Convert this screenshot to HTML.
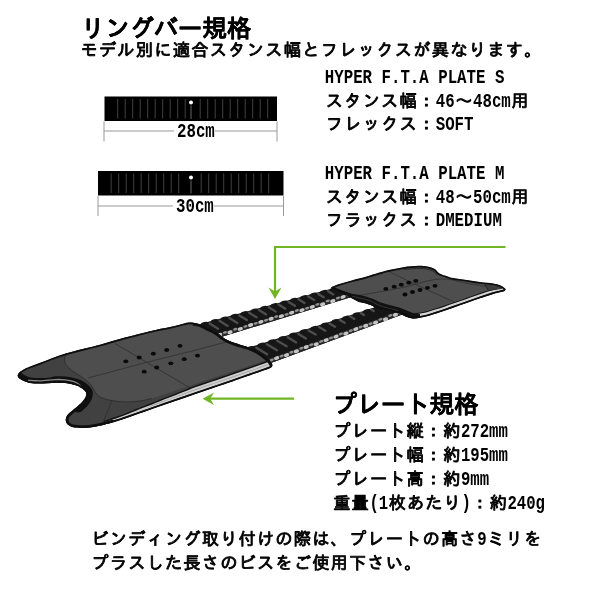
<!DOCTYPE html>
<html lang="ja">
<head>
<meta charset="utf-8">
<title>リングバー規格 / プレート規格</title>
<style>
html,body{margin:0;padding:0;background:#fff;}
body{width:600px;height:600px;overflow:hidden;font-family:"Liberation Mono","IPAGothic",monospace;}
svg{display:block;will-change:transform}
text{font-family:"Liberation Mono","IPAGothic",monospace;font-weight:bold;fill:#000;white-space:pre}
.j{font-weight:normal;stroke:#000;stroke-width:0.85px;stroke-linejoin:round}
.t{font-weight:bold;stroke:#000;stroke-width:0.15px;stroke-linejoin:round}
</style>
</head>
<body>
<svg width="600" height="600" viewBox="0 0 600 600">
<rect width="600" height="600" fill="#fff"/>
<text y="37.00"><tspan class="t" x="80.90" font-size="24.50" textLength="170.30" lengthAdjust="spacing">リングバー規格</tspan></text>
<text y="56.40"><tspan class="j" x="80.39" font-size="17.30" textLength="461.06" lengthAdjust="spacing">モデル別に適合スタンス幅とフレックスが異なります。</tspan></text>
<text y="82.50"><tspan class="l" x="324.80" font-size="20.98" textLength="179.55" lengthAdjust="spacingAndGlyphs">HYPER F.T.A PLATE S</tspan></text>
<text y="107.00"><tspan class="j" x="325.85" font-size="17.30" textLength="109.30" lengthAdjust="spacing">スタンス幅：</tspan><tspan class="l" x="435.70" font-size="20.98" textLength="18.90" lengthAdjust="spacingAndGlyphs">46</tspan><tspan class="j" x="455.15" font-size="17.30">～</tspan><tspan class="l" x="473.00" font-size="20.98" textLength="37.80" lengthAdjust="spacingAndGlyphs">48cm</tspan><tspan class="j" x="511.35" font-size="17.30">用</tspan></text>
<text y="129.90"><tspan class="j" x="325.85" font-size="17.30" textLength="109.30" lengthAdjust="spacing">フレックス：</tspan><tspan class="l" x="435.70" font-size="20.98" textLength="37.80" lengthAdjust="spacingAndGlyphs">SOFT</tspan></text>
<text y="178.50"><tspan class="l" x="324.80" font-size="20.98" textLength="179.55" lengthAdjust="spacingAndGlyphs">HYPER F.T.A PLATE M</tspan></text>
<text y="203.00"><tspan class="j" x="325.85" font-size="17.30" textLength="109.30" lengthAdjust="spacing">スタンス幅：</tspan><tspan class="l" x="435.70" font-size="20.98" textLength="18.90" lengthAdjust="spacingAndGlyphs">48</tspan><tspan class="j" x="455.15" font-size="17.30">～</tspan><tspan class="l" x="473.00" font-size="20.98" textLength="37.80" lengthAdjust="spacingAndGlyphs">50cm</tspan><tspan class="j" x="511.35" font-size="17.30">用</tspan></text>
<text y="225.90"><tspan class="j" x="325.85" font-size="17.30" textLength="109.30" lengthAdjust="spacing">フラックス：</tspan><tspan class="l" x="435.70" font-size="20.98" textLength="66.15" lengthAdjust="spacingAndGlyphs">DMEDIUM</tspan></text>
<text y="136.50"><tspan class="l" x="177.00" font-size="20.98" textLength="37.80" lengthAdjust="spacingAndGlyphs">28cm</tspan></text>
<text y="211.50"><tspan class="l" x="176.00" font-size="20.98" textLength="37.80" lengthAdjust="spacingAndGlyphs">30cm</tspan></text>
<text y="412.60"><tspan class="t" x="332.50" font-size="24.50" textLength="146.00" lengthAdjust="spacing">プレート規格</tspan></text>
<text y="437.20"><tspan class="j" x="333.30" font-size="17.30" textLength="127.10" lengthAdjust="spacing">プレート縦：約</tspan><tspan class="l" x="460.90" font-size="20.98" textLength="47.00" lengthAdjust="spacingAndGlyphs">272mm</tspan></text>
<text y="460.80"><tspan class="j" x="333.30" font-size="17.30" textLength="127.10" lengthAdjust="spacing">プレート幅：約</tspan><tspan class="l" x="460.90" font-size="20.98" textLength="47.00" lengthAdjust="spacingAndGlyphs">195mm</tspan></text>
<text y="484.80"><tspan class="j" x="333.30" font-size="17.30" textLength="127.10" lengthAdjust="spacing">プレート高：約</tspan><tspan class="l" x="460.90" font-size="20.98" textLength="28.20" lengthAdjust="spacingAndGlyphs">9mm</tspan></text>
<text y="509.40"><tspan class="j" x="333.30" font-size="17.30" textLength="35.60" lengthAdjust="spacing">重量</tspan><tspan class="l" x="369.40" font-size="20.98" textLength="18.80" lengthAdjust="spacingAndGlyphs">(1</tspan><tspan class="j" x="388.70" font-size="17.30" textLength="72.20" lengthAdjust="spacing">枚あたり</tspan><tspan class="l" x="461.40" font-size="20.98" textLength="9.40" lengthAdjust="spacingAndGlyphs">)</tspan><tspan class="j" x="471.30" font-size="17.30" textLength="35.60" lengthAdjust="spacing">：約</tspan><tspan class="l" x="507.40" font-size="20.98" textLength="37.60" lengthAdjust="spacingAndGlyphs">240g</tspan></text>
<text y="545.40"><tspan class="j" x="91.35" font-size="17.30" textLength="385.30" lengthAdjust="spacing">ビンディング取り付けの際は、プレートの高さ</tspan><tspan class="l" x="477.20" font-size="20.98" textLength="9.45" lengthAdjust="spacingAndGlyphs">9</tspan><tspan class="j" x="487.20" font-size="17.30" textLength="54.10" lengthAdjust="spacing">ミリを</tspan></text>
<text y="568.90"><tspan class="j" x="91.35" font-size="17.30" textLength="330.10" lengthAdjust="spacing">プラスした長さのビスをご使用下さい。</tspan></text>
<rect x="104.5" y="96.5" width="172.5" height="24.5" fill="#000"/>
<path d="M117.7 99.0V118.5M125.2 99.0V118.5M132.7 99.0V118.5M140.2 99.0V118.5M147.7 99.0V118.5M155.2 99.0V118.5M162.7 99.0V118.5M170.2 99.0V118.5M177.7 99.0V118.5M185.2 99.0V118.5M200.2 99.0V118.5M207.7 99.0V118.5M215.2 99.0V118.5M222.7 99.0V118.5M230.2 99.0V118.5M237.7 99.0V118.5M245.2 99.0V118.5M252.7 99.0V118.5M260.2 99.0V118.5M267.7 99.0V118.5" stroke="#484848" stroke-width="0.9" fill="none"/>
<circle cx="191" cy="102.5" r="2" fill="#fff"/>
<path d="M191 105.5V119" stroke="#666" stroke-width="1" fill="none"/>
<rect x="98" y="171" width="185.5" height="24.5" fill="#000"/>
<path d="M111.2 173.5V193.0M118.7 173.5V193.0M126.2 173.5V193.0M133.7 173.5V193.0M141.2 173.5V193.0M148.7 173.5V193.0M156.2 173.5V193.0M163.7 173.5V193.0M171.2 173.5V193.0M178.7 173.5V193.0M201.2 173.5V193.0M208.7 173.5V193.0M216.2 173.5V193.0M223.7 173.5V193.0M231.2 173.5V193.0M238.7 173.5V193.0M246.2 173.5V193.0M253.7 173.5V193.0M261.2 173.5V193.0M268.7 173.5V193.0" stroke="#484848" stroke-width="0.9" fill="none"/>
<circle cx="191" cy="177.5" r="2" fill="#fff"/>
<path d="M191 180.5V193.5" stroke="#666" stroke-width="1" fill="none"/>
<path d="M104 121.5V141.5M277 121.5V141.5M104 131H174M215 131H277" stroke="#999" stroke-width="1" fill="none"/>
<path d="M98 196V216M283.5 196V216M98 206H173M214 206H283.5" stroke="#999" stroke-width="1" fill="none"/>
<defs><clipPath id="pl"><path d="M17.7 375.6C17.8 374.6 18.3 373.4 19.5 372.2C20.7 371.0 23.2 369.6 25.0 368.7C26.8 367.8 27.5 367.5 30.0 366.5C32.5 365.5 36.7 364.1 40.0 362.8C43.3 361.6 46.7 360.3 50.0 359.0C53.3 357.7 55.8 356.5 60.0 355.2C64.2 353.9 68.3 352.8 75.0 351.0C81.7 349.2 91.7 346.9 100.0 344.7C108.3 342.5 116.7 339.9 125.0 337.6C133.3 335.4 142.5 333.0 150.0 331.2C157.5 329.4 164.4 328.2 170.0 327.0C175.6 325.8 180.2 324.4 183.3 323.7C186.4 323.0 187.0 322.8 188.7 322.6C190.4 322.4 191.8 322.5 193.3 322.7C194.9 322.9 196.4 323.2 198.0 323.7C199.6 324.2 201.3 324.8 203.0 325.5C204.7 326.2 205.7 326.8 208.0 328.0C210.3 329.2 214.4 331.1 216.7 332.5C219.0 333.9 219.8 335.2 222.0 336.7C224.2 338.2 227.0 340.0 230.0 341.3C233.0 342.6 236.7 343.6 240.0 344.7C243.3 345.8 247.0 346.5 250.0 347.6C253.0 348.7 255.5 349.9 258.0 351.3C260.5 352.8 263.0 354.7 265.0 356.3C267.0 357.9 268.8 359.6 270.0 361.0C271.2 362.4 272.1 363.6 272.3 364.7C272.5 365.8 272.2 366.8 271.0 367.7C269.8 368.6 267.7 369.0 265.0 370.0C262.3 371.0 258.3 372.4 255.0 373.6C251.7 374.8 249.2 375.6 245.0 377.0C240.8 378.4 237.5 379.7 230.0 382.3C222.5 384.9 211.7 388.5 200.0 392.5C188.3 396.5 173.3 401.7 160.0 406.3C146.7 410.9 129.2 417.3 120.0 420.3C110.8 423.3 109.2 423.4 105.0 424.5C100.8 425.6 98.3 426.1 95.0 426.7C91.7 427.3 88.3 427.9 85.0 428.0C81.7 428.1 77.5 427.8 75.0 427.5C72.5 427.2 71.4 426.8 70.0 426.0C68.6 425.2 67.2 424.2 66.5 423.0C65.8 421.8 65.6 420.3 65.8 419.0C66.0 417.7 66.5 416.3 67.5 415.0C68.5 413.7 70.2 412.5 72.0 411.0C73.8 409.5 76.2 407.7 78.0 406.0C79.8 404.3 81.7 402.7 83.0 401.0C84.3 399.3 85.5 397.5 86.0 396.0C86.5 394.5 86.6 393.3 85.8 392.0C85.0 390.7 83.2 389.2 81.4 388.0C79.6 386.8 77.7 385.8 75.0 385.0C72.3 384.2 68.3 383.4 65.0 383.0C61.7 382.6 59.2 382.7 55.0 382.8C50.8 382.9 44.2 383.6 40.0 383.6C35.8 383.6 32.8 383.5 30.0 383.0C27.2 382.5 24.8 381.4 23.0 380.6C21.2 379.8 19.9 378.8 19.0 378.0C18.1 377.2 17.6 376.6 17.7 375.6Z"/></clipPath><clipPath id="pr"><path d="M331.3 288.0C331.3 286.8 334.9 285.6 338.3 284.3C341.7 283.0 347.2 281.6 351.7 280.4C356.1 279.2 359.2 278.6 365.0 277.0C370.8 275.4 380.3 272.2 386.7 270.6C393.1 269.0 398.0 268.0 403.3 267.2C408.6 266.4 414.3 265.9 418.3 265.8C422.3 265.7 424.8 266.1 427.5 266.6C430.2 267.1 432.8 267.9 434.8 269.0C436.8 270.1 437.2 272.2 439.4 273.4C441.5 274.6 445.4 275.6 447.7 276.4C450.0 277.2 450.1 277.4 453.3 278.0C456.5 278.6 462.2 279.3 466.7 280.0C471.1 280.7 475.6 281.4 480.0 282.0C484.4 282.6 490.0 282.8 493.3 283.4C496.6 283.9 498.0 284.4 500.0 285.3C502.0 286.2 504.7 287.8 505.4 288.8C506.1 289.8 504.9 290.6 504.0 291.2C503.1 291.8 501.8 291.8 500.0 292.3C498.2 292.8 496.6 293.0 493.3 294.0C490.0 295.0 484.4 296.8 480.0 298.3C475.6 299.8 471.1 301.4 466.7 303.0C462.2 304.6 457.8 306.1 453.3 307.7C448.9 309.2 444.6 310.8 440.0 312.3C435.4 313.8 430.2 315.6 426.0 316.6C421.8 317.6 417.9 318.4 414.7 318.5C411.5 318.6 409.1 317.8 406.7 317.0C404.2 316.2 402.5 314.7 400.0 313.8C397.5 312.9 394.5 312.2 391.7 311.5C388.9 310.8 385.9 310.1 383.3 309.5C380.7 308.9 377.9 308.6 376.0 308.0C374.1 307.4 373.8 306.5 372.0 305.7C370.2 304.9 367.3 304.0 365.0 303.3C362.7 302.6 360.5 302.5 358.3 301.7C356.1 300.9 353.9 299.5 351.7 298.3C349.5 297.1 347.2 295.4 345.0 294.3C342.8 293.2 340.6 292.8 338.3 291.7C336.0 290.6 331.3 289.2 331.3 288.0Z"/></clipPath></defs>
<g><path d="M505.5 247H275V296" stroke="#70b624" stroke-width="2.2" fill="none"/>
<path d="M268.5 287.5L275 291.5L281.5 287.5L275 299Z" fill="#70b624"/>
<path d="M294 398.7H206" stroke="#70b624" stroke-width="2.2" fill="none"/>
<path d="M214 392.5L210.2 398.7L214 404.9L202.6 398.7Z" fill="#70b624"/>
<path d="M199.1 324.2L335.9 287.6L350.8 297.3L217.2 338.2Z" fill="#161616"/>
<path d="M217.2 334.0L350.8 293.1L350.8 297.3L217.2 338.2Z" fill="#262626"/>
<g><ellipse cx="219.7" cy="334.8" rx="2.7" ry="1.8" fill="#c4c4c4" transform="rotate(-17 219.7 334.8)"/><ellipse cx="224.9" cy="332.4" rx="2.2" ry="1.3" fill="#909090" transform="rotate(-17 224.9 332.4)"/><ellipse cx="230.0" cy="332.2" rx="2.7" ry="1.8" fill="#c4c4c4" transform="rotate(-17 230.0 332.2)"/><ellipse cx="235.2" cy="329.2" rx="2.2" ry="1.3" fill="#909090" transform="rotate(-17 235.2 329.2)"/><ellipse cx="240.3" cy="328.9" rx="2.7" ry="1.8" fill="#c4c4c4" transform="rotate(-17 240.3 328.9)"/><ellipse cx="245.4" cy="326.4" rx="2.2" ry="1.3" fill="#909090" transform="rotate(-17 245.4 326.4)"/><ellipse cx="250.6" cy="325.0" rx="2.7" ry="1.8" fill="#c4c4c4" transform="rotate(-17 250.6 325.0)"/><ellipse cx="255.7" cy="323.4" rx="2.2" ry="1.3" fill="#909090" transform="rotate(-17 255.7 323.4)"/><ellipse cx="260.9" cy="321.9" rx="2.7" ry="1.8" fill="#c4c4c4" transform="rotate(-17 260.9 321.9)"/><ellipse cx="266.0" cy="320.2" rx="2.2" ry="1.3" fill="#909090" transform="rotate(-17 266.0 320.2)"/><ellipse cx="271.1" cy="318.8" rx="2.7" ry="1.8" fill="#c4c4c4" transform="rotate(-17 271.1 318.8)"/><ellipse cx="276.3" cy="316.6" rx="2.2" ry="1.3" fill="#909090" transform="rotate(-17 276.3 316.6)"/><ellipse cx="281.4" cy="316.1" rx="2.7" ry="1.8" fill="#c4c4c4" transform="rotate(-17 281.4 316.1)"/><ellipse cx="286.6" cy="314.4" rx="2.2" ry="1.3" fill="#909090" transform="rotate(-17 286.6 314.4)"/><ellipse cx="291.7" cy="312.6" rx="2.7" ry="1.8" fill="#c4c4c4" transform="rotate(-17 291.7 312.6)"/><ellipse cx="296.9" cy="310.5" rx="2.2" ry="1.3" fill="#909090" transform="rotate(-17 296.9 310.5)"/><ellipse cx="302.0" cy="310.1" rx="2.7" ry="1.8" fill="#c4c4c4" transform="rotate(-17 302.0 310.1)"/><ellipse cx="307.1" cy="308.2" rx="2.2" ry="1.3" fill="#909090" transform="rotate(-17 307.1 308.2)"/><ellipse cx="312.3" cy="306.9" rx="2.7" ry="1.8" fill="#c4c4c4" transform="rotate(-17 312.3 306.9)"/><ellipse cx="317.4" cy="304.4" rx="2.2" ry="1.3" fill="#909090" transform="rotate(-17 317.4 304.4)"/><ellipse cx="322.6" cy="304.3" rx="2.7" ry="1.8" fill="#c4c4c4" transform="rotate(-17 322.6 304.3)"/><ellipse cx="327.7" cy="300.9" rx="2.2" ry="1.3" fill="#909090" transform="rotate(-17 327.7 300.9)"/><ellipse cx="332.8" cy="301.0" rx="2.7" ry="1.8" fill="#c4c4c4" transform="rotate(-17 332.8 301.0)"/><ellipse cx="338.0" cy="298.0" rx="2.2" ry="1.3" fill="#909090" transform="rotate(-17 338.0 298.0)"/><ellipse cx="343.1" cy="296.9" rx="2.7" ry="1.8" fill="#c4c4c4" transform="rotate(-17 343.1 296.9)"/><ellipse cx="348.3" cy="294.7" rx="2.2" ry="1.3" fill="#909090" transform="rotate(-17 348.3 294.7)"/></g>
<g fill="#161616"><ellipse cx="204.5" cy="323.7" rx="3.6" ry="1.7" transform="rotate(-15 204.5 323.7)"/><ellipse cx="214.4" cy="321.0" rx="3.6" ry="1.7" transform="rotate(-15 214.4 321.0)"/><ellipse cx="224.3" cy="318.4" rx="3.6" ry="1.7" transform="rotate(-15 224.3 318.4)"/><ellipse cx="234.3" cy="315.7" rx="3.6" ry="1.7" transform="rotate(-15 234.3 315.7)"/><ellipse cx="244.2" cy="313.1" rx="3.6" ry="1.7" transform="rotate(-15 244.2 313.1)"/><ellipse cx="254.1" cy="310.4" rx="3.6" ry="1.7" transform="rotate(-15 254.1 310.4)"/><ellipse cx="264.0" cy="307.7" rx="3.6" ry="1.7" transform="rotate(-15 264.0 307.7)"/><ellipse cx="274.0" cy="305.1" rx="3.6" ry="1.7" transform="rotate(-15 274.0 305.1)"/><ellipse cx="283.9" cy="302.4" rx="3.6" ry="1.7" transform="rotate(-15 283.9 302.4)"/><ellipse cx="293.8" cy="299.7" rx="3.6" ry="1.7" transform="rotate(-15 293.8 299.7)"/><ellipse cx="303.7" cy="297.1" rx="3.6" ry="1.7" transform="rotate(-15 303.7 297.1)"/><ellipse cx="313.7" cy="294.4" rx="3.6" ry="1.7" transform="rotate(-15 313.7 294.4)"/><ellipse cx="323.6" cy="291.8" rx="3.6" ry="1.7" transform="rotate(-15 323.6 291.8)"/><ellipse cx="333.5" cy="289.1" rx="3.6" ry="1.7" transform="rotate(-15 333.5 289.1)"/><ellipse cx="343.4" cy="286.4" rx="3.6" ry="1.7" transform="rotate(-15 343.4 286.4)"/></g>
<path d="M199.8 326.2L208.5 331.6M209.7 323.5L218.1 328.7M219.5 320.8L227.7 325.9M229.4 318.1L237.3 323.0M239.3 315.4L246.9 320.1M249.1 312.7L256.5 317.3M259.0 310.0L266.1 314.4M268.9 307.3L275.7 311.6M278.7 304.6L285.3 308.7M288.6 302.0L294.9 305.8M298.5 299.3L304.5 303.0M308.3 296.6L314.1 300.1M318.2 293.9L323.7 297.3M328.1 291.2L333.3 294.4M338.0 288.5L342.9 291.5" stroke="#4e4e4e" stroke-width="2.3" stroke-linecap="round" fill="none"/>
<path d="M245.2 348.7L379.8 305.8L407.8 312.6L264.2 365.4Z" fill="#161616"/>
<path d="M264.2 360.6L407.8 307.8L407.8 312.6L264.2 365.4Z" fill="#262626"/>
<g><ellipse cx="266.7" cy="361.9" rx="2.7" ry="1.8" fill="#c4c4c4" transform="rotate(-20 266.7 361.9)"/><ellipse cx="271.7" cy="360.0" rx="2.2" ry="1.3" fill="#909090" transform="rotate(-20 271.7 360.0)"/><ellipse cx="276.6" cy="358.1" rx="2.7" ry="1.8" fill="#c4c4c4" transform="rotate(-20 276.6 358.1)"/><ellipse cx="281.6" cy="356.1" rx="2.2" ry="1.3" fill="#909090" transform="rotate(-20 281.6 356.1)"/><ellipse cx="286.5" cy="355.1" rx="2.7" ry="1.8" fill="#c4c4c4" transform="rotate(-20 286.5 355.1)"/><ellipse cx="291.5" cy="352.2" rx="2.2" ry="1.3" fill="#909090" transform="rotate(-20 291.5 352.2)"/><ellipse cx="296.4" cy="351.3" rx="2.7" ry="1.8" fill="#c4c4c4" transform="rotate(-20 296.4 351.3)"/><ellipse cx="301.4" cy="348.2" rx="2.2" ry="1.3" fill="#909090" transform="rotate(-20 301.4 348.2)"/><ellipse cx="306.3" cy="347.0" rx="2.7" ry="1.8" fill="#c4c4c4" transform="rotate(-20 306.3 347.0)"/><ellipse cx="311.3" cy="344.7" rx="2.2" ry="1.3" fill="#909090" transform="rotate(-20 311.3 344.7)"/><ellipse cx="316.2" cy="344.2" rx="2.7" ry="1.8" fill="#c4c4c4" transform="rotate(-20 316.2 344.2)"/><ellipse cx="321.2" cy="341.4" rx="2.2" ry="1.3" fill="#909090" transform="rotate(-20 321.2 341.4)"/><ellipse cx="326.1" cy="340.1" rx="2.7" ry="1.8" fill="#c4c4c4" transform="rotate(-20 326.1 340.1)"/><ellipse cx="331.1" cy="337.9" rx="2.2" ry="1.3" fill="#909090" transform="rotate(-20 331.1 337.9)"/><ellipse cx="336.0" cy="336.6" rx="2.7" ry="1.8" fill="#c4c4c4" transform="rotate(-20 336.0 336.6)"/><ellipse cx="340.9" cy="333.9" rx="2.2" ry="1.3" fill="#909090" transform="rotate(-20 340.9 333.9)"/><ellipse cx="345.9" cy="333.5" rx="2.7" ry="1.8" fill="#c4c4c4" transform="rotate(-20 345.9 333.5)"/><ellipse cx="350.8" cy="330.8" rx="2.2" ry="1.3" fill="#909090" transform="rotate(-20 350.8 330.8)"/><ellipse cx="355.8" cy="329.1" rx="2.7" ry="1.8" fill="#c4c4c4" transform="rotate(-20 355.8 329.1)"/><ellipse cx="360.7" cy="327.0" rx="2.2" ry="1.3" fill="#909090" transform="rotate(-20 360.7 327.0)"/><ellipse cx="365.7" cy="325.8" rx="2.7" ry="1.8" fill="#c4c4c4" transform="rotate(-20 365.7 325.8)"/><ellipse cx="370.6" cy="323.7" rx="2.2" ry="1.3" fill="#909090" transform="rotate(-20 370.6 323.7)"/><ellipse cx="375.6" cy="322.5" rx="2.7" ry="1.8" fill="#c4c4c4" transform="rotate(-20 375.6 322.5)"/><ellipse cx="380.5" cy="319.4" rx="2.2" ry="1.3" fill="#909090" transform="rotate(-20 380.5 319.4)"/><ellipse cx="385.5" cy="319.2" rx="2.7" ry="1.8" fill="#c4c4c4" transform="rotate(-20 385.5 319.2)"/><ellipse cx="390.4" cy="315.5" rx="2.2" ry="1.3" fill="#909090" transform="rotate(-20 390.4 315.5)"/><ellipse cx="395.4" cy="314.8" rx="2.7" ry="1.8" fill="#c4c4c4" transform="rotate(-20 395.4 314.8)"/><ellipse cx="400.3" cy="312.7" rx="2.2" ry="1.3" fill="#909090" transform="rotate(-20 400.3 312.7)"/><ellipse cx="405.3" cy="310.7" rx="2.7" ry="1.8" fill="#c4c4c4" transform="rotate(-20 405.3 310.7)"/></g>
<g fill="#161616"><ellipse cx="250.5" cy="348.0" rx="3.6" ry="1.7" transform="rotate(-15 250.5 348.0)"/><ellipse cx="261.1" cy="344.6" rx="3.6" ry="1.7" transform="rotate(-15 261.1 344.6)"/><ellipse cx="271.7" cy="341.2" rx="3.6" ry="1.7" transform="rotate(-15 271.7 341.2)"/><ellipse cx="282.2" cy="337.9" rx="3.6" ry="1.7" transform="rotate(-15 282.2 337.9)"/><ellipse cx="292.8" cy="334.5" rx="3.6" ry="1.7" transform="rotate(-15 292.8 334.5)"/><ellipse cx="303.4" cy="331.1" rx="3.6" ry="1.7" transform="rotate(-15 303.4 331.1)"/><ellipse cx="314.0" cy="327.8" rx="3.6" ry="1.7" transform="rotate(-15 314.0 327.8)"/><ellipse cx="324.6" cy="324.4" rx="3.6" ry="1.7" transform="rotate(-15 324.6 324.4)"/><ellipse cx="335.2" cy="321.0" rx="3.6" ry="1.7" transform="rotate(-15 335.2 321.0)"/><ellipse cx="345.8" cy="317.6" rx="3.6" ry="1.7" transform="rotate(-15 345.8 317.6)"/><ellipse cx="356.3" cy="314.2" rx="3.6" ry="1.7" transform="rotate(-15 356.3 314.2)"/><ellipse cx="366.9" cy="310.9" rx="3.6" ry="1.7" transform="rotate(-15 366.9 310.9)"/><ellipse cx="377.5" cy="307.5" rx="3.6" ry="1.7" transform="rotate(-15 377.5 307.5)"/><ellipse cx="388.1" cy="304.1" rx="3.6" ry="1.7" transform="rotate(-15 388.1 304.1)"/></g>
<path d="M246.0 351.2L257.5 358.1M256.4 347.7L267.2 354.2M266.9 344.2L276.9 350.2M277.3 340.8L286.6 346.3M287.7 337.3L296.2 342.4M298.2 333.8L305.9 338.5M308.6 330.4L315.6 334.6M319.0 326.9L325.3 330.7M329.5 323.4L335.0 326.7M339.9 320.0L344.6 322.8M350.3 316.5L354.3 318.9M360.8 313.0L364.0 315.0M371.2 309.6L373.7 311.1M381.6 306.1L383.4 307.1" stroke="#4e4e4e" stroke-width="2.3" stroke-linecap="round" fill="none"/>
<g clip-path="url(#pl)">
<path d="M17.7 375.6C17.8 374.6 18.3 373.4 19.5 372.2C20.7 371.0 23.2 369.6 25.0 368.7C26.8 367.8 27.5 367.5 30.0 366.5C32.5 365.5 36.7 364.1 40.0 362.8C43.3 361.6 46.7 360.3 50.0 359.0C53.3 357.7 55.8 356.5 60.0 355.2C64.2 353.9 68.3 352.8 75.0 351.0C81.7 349.2 91.7 346.9 100.0 344.7C108.3 342.5 116.7 339.9 125.0 337.6C133.3 335.4 142.5 333.0 150.0 331.2C157.5 329.4 164.4 328.2 170.0 327.0C175.6 325.8 180.2 324.4 183.3 323.7C186.4 323.0 187.0 322.8 188.7 322.6C190.4 322.4 191.8 322.5 193.3 322.7C194.9 322.9 196.4 323.2 198.0 323.7C199.6 324.2 201.3 324.8 203.0 325.5C204.7 326.2 205.7 326.8 208.0 328.0C210.3 329.2 214.4 331.1 216.7 332.5C219.0 333.9 219.8 335.2 222.0 336.7C224.2 338.2 227.0 340.0 230.0 341.3C233.0 342.6 236.7 343.6 240.0 344.7C243.3 345.8 247.0 346.5 250.0 347.6C253.0 348.7 255.5 349.9 258.0 351.3C260.5 352.8 263.0 354.7 265.0 356.3C267.0 357.9 268.8 359.6 270.0 361.0C271.2 362.4 272.1 363.6 272.3 364.7C272.5 365.8 272.2 366.8 271.0 367.7C269.8 368.6 267.7 369.0 265.0 370.0C262.3 371.0 258.3 372.4 255.0 373.6C251.7 374.8 249.2 375.6 245.0 377.0C240.8 378.4 237.5 379.7 230.0 382.3C222.5 384.9 211.7 388.5 200.0 392.5C188.3 396.5 173.3 401.7 160.0 406.3C146.7 410.9 129.2 417.3 120.0 420.3C110.8 423.3 109.2 423.4 105.0 424.5C100.8 425.6 98.3 426.1 95.0 426.7C91.7 427.3 88.3 427.9 85.0 428.0C81.7 428.1 77.5 427.8 75.0 427.5C72.5 427.2 71.4 426.8 70.0 426.0C68.6 425.2 67.2 424.2 66.5 423.0C65.8 421.8 65.6 420.3 65.8 419.0C66.0 417.7 66.5 416.3 67.5 415.0C68.5 413.7 70.2 412.5 72.0 411.0C73.8 409.5 76.2 407.7 78.0 406.0C79.8 404.3 81.7 402.7 83.0 401.0C84.3 399.3 85.5 397.5 86.0 396.0C86.5 394.5 86.6 393.3 85.8 392.0C85.0 390.7 83.2 389.2 81.4 388.0C79.6 386.8 77.7 385.8 75.0 385.0C72.3 384.2 68.3 383.4 65.0 383.0C61.7 382.6 59.2 382.7 55.0 382.8C50.8 382.9 44.2 383.6 40.0 383.6C35.8 383.6 32.8 383.5 30.0 383.0C27.2 382.5 24.8 381.4 23.0 380.6C21.2 379.8 19.9 378.8 19.0 378.0C18.1 377.2 17.6 376.6 17.7 375.6Z" fill="#414141"/>
<path d="M66.0 352.0C65.8 353.3 64.3 357.7 64.5 360.0C64.7 362.3 65.4 364.0 67.0 366.0C68.6 368.0 71.2 369.9 74.0 372.0C76.8 374.1 81.2 376.3 84.0 378.5C86.8 380.7 89.2 382.8 91.0 385.0C92.8 387.2 93.3 389.9 95.0 392.0C96.7 394.1 98.2 396.1 101.0 397.5C103.8 398.9 107.8 399.9 112.0 400.6C116.2 401.4 121.3 401.9 126.0 402.0C130.7 402.1 135.7 401.6 140.0 401.0C144.3 400.4 150.0 398.9 152.0 398.5L290 352L290 300L66 330Z" fill="#4e4e4e"/>
<path d="M66.0 352.0C65.8 353.3 64.3 357.7 64.5 360.0C64.7 362.3 65.4 364.0 67.0 366.0C68.6 368.0 71.2 369.9 74.0 372.0C76.8 374.1 81.2 376.3 84.0 378.5C86.8 380.7 89.2 382.8 91.0 385.0C92.8 387.2 93.3 389.9 95.0 392.0C96.7 394.1 98.2 396.1 101.0 397.5C103.8 398.9 107.8 399.9 112.0 400.6C116.2 401.4 121.3 401.9 126.0 402.0C130.7 402.1 135.7 401.6 140.0 401.0C144.3 400.4 150.0 398.9 152.0 398.5" stroke="#303030" stroke-width="1" fill="none"/>
<path d="M112 400.6L107 413L101 426" stroke="#303030" stroke-width="0.9" fill="none"/>
<path d="M115 343.5L146.7 362.3L180 382L196 391.5M88 378L146.7 362.3L190 351.5L232 340.5" stroke="#333" stroke-width="0.9" fill="none"/>
<ellipse cx="125.8" cy="361.3" rx="2.5" ry="1.9" fill="#0a0a0a"/>
<ellipse cx="139.2" cy="357.5" rx="2.5" ry="1.9" fill="#0a0a0a"/>
<ellipse cx="153.3" cy="353.7" rx="2.5" ry="1.9" fill="#0a0a0a"/>
<ellipse cx="166.7" cy="350" rx="2.5" ry="1.9" fill="#0a0a0a"/>
<ellipse cx="180" cy="345.8" rx="2.5" ry="1.9" fill="#0a0a0a"/>
<ellipse cx="144.2" cy="371.7" rx="2.5" ry="1.9" fill="#0a0a0a"/>
<ellipse cx="156.7" cy="367.5" rx="2.5" ry="1.9" fill="#0a0a0a"/>
<ellipse cx="170.8" cy="363.3" rx="2.5" ry="1.9" fill="#0a0a0a"/>
<ellipse cx="184.2" cy="359.2" rx="2.5" ry="1.9" fill="#0a0a0a"/>
<ellipse cx="197.5" cy="355.6" rx="2.5" ry="1.9" fill="#0a0a0a"/>
<path d="M104.0 424.8L108.0 423.7L112.0 422.6L116.0 421.4L120.0 420.3L124.0 418.9L128.0 417.5L132.0 416.1L136.0 414.7L140.0 413.3L144.0 411.9L148.0 410.5L152.0 409.1L156.0 407.7L160.0 406.3L164.0 404.9L168.0 403.5L172.0 402.2L176.0 400.8L180.0 399.4L184.0 398.0L188.0 396.6L192.0 395.3L196.0 393.9L200.0 392.5L204.3 391.0L208.6 389.6L212.9 388.1L217.1 386.7L221.4 385.2L225.7 383.8L230.0 382.3L235.0 380.5L240.0 378.8L245.0 377.0L250.0 375.3L255.0 373.6L260.0 371.8L265.0 370.0L271.0 367.7L274.0 366.0L274.0 357.6L271.0 359.3L265.0 361.6L260.0 363.4L255.0 365.2L250.0 366.9L245.0 368.6L240.0 370.4L235.0 372.1L230.0 373.9L225.7 375.4L221.4 376.8L217.1 378.3L212.9 379.7L208.6 381.2L204.3 382.6L200.0 384.1L196.0 385.5L192.0 387.0L188.0 388.6L184.0 390.2L180.0 391.7L176.0 393.3L172.0 394.9L168.0 396.4L164.0 398.0L160.0 399.6L156.0 401.2L152.0 402.8L148.0 404.3L144.0 405.9L140.0 407.5L136.0 409.1L132.0 410.7L128.0 412.3L124.0 413.9L120.0 415.5L116.0 416.8L112.0 418.1L108.0 419.4L104.0 420.7Z" fill="#141414"/>
<path d="M104.0 423.0L108.0 421.9L112.0 420.8L116.0 419.6L120.0 418.5L124.0 417.1L128.0 415.7L132.0 414.3L136.0 412.9L140.0 411.5L144.0 410.1L148.0 408.7L152.0 407.3L156.0 405.9L160.0 404.5L164.0 403.1L168.0 401.7L172.0 400.4L176.0 399.0L180.0 397.6L184.0 396.2L188.0 394.8L192.0 393.5L196.0 392.1L200.0 390.7L204.3 389.2L208.6 387.8L212.9 386.3L217.1 384.9L221.4 383.4L225.7 382.0L230.0 380.5L235.0 378.7L240.0 377.0L245.0 375.2L250.0 373.5L255.0 371.8L260.0 370.0L265.0 368.2L271.0 365.9L274.0 364.2L274.0 359.2L271.0 360.9L265.0 363.2L260.0 365.0L255.0 366.8L250.0 368.5L245.0 370.2L240.0 372.0L235.0 373.7L230.0 375.5L225.7 377.0L221.4 378.4L217.1 379.9L212.9 381.3L208.6 382.8L204.3 384.2L200.0 385.7L196.0 387.1L192.0 388.6L188.0 390.2L184.0 391.8L180.0 393.3L176.0 394.9L172.0 396.5L168.0 398.0L164.0 399.6L160.0 401.2L156.0 402.8L152.0 404.4L148.0 405.9L144.0 407.5L140.0 409.1L136.0 410.7L132.0 412.3L128.0 413.9L124.0 415.5L120.0 417.1L116.0 418.4L112.0 419.7L108.0 421.0L104.0 422.3Z" fill="#cdcdcd"/>
<path d="M104.0 422.7L108.0 421.5L112.0 420.3L116.0 419.1L120.0 417.9L124.0 416.4L128.0 414.9L132.0 413.4L136.0 411.9L140.0 410.4L144.0 408.9L148.0 407.5L152.0 406.0L156.0 404.5L160.0 403.0L164.0 401.5L168.0 400.1L172.0 398.6L176.0 397.1L180.0 395.7L184.0 394.2L188.0 392.8L192.0 391.3L196.0 389.8L200.0 388.4L204.3 387.0L208.6 385.5L212.9 384.1L217.1 382.6L221.4 381.2L225.7 379.7L230.0 378.2L235.0 376.5L240.0 374.7L245.0 372.9L250.0 371.2L255.0 369.6L260.0 367.8L265.0 365.9L271.0 363.6L274.0 361.9L274.0 361.2L271.0 362.9L265.0 365.2L260.0 367.1L255.0 368.9L250.0 370.6L245.0 372.2L240.0 374.0L235.0 375.8L230.0 377.6L225.7 379.0L221.4 380.5L217.1 381.9L212.9 383.4L208.6 384.8L204.3 386.3L200.0 387.8L196.0 389.1L192.0 390.6L188.0 392.1L184.0 393.5L180.0 395.0L176.0 396.4L172.0 397.9L168.0 399.4L164.0 400.8L160.0 402.3L156.0 403.8L152.0 405.3L148.0 407.5L144.0 408.9L140.0 410.4L136.0 411.9L132.0 413.4L128.0 414.9L124.0 416.4L120.0 417.9L116.0 419.1L112.0 420.3L108.0 421.5L104.0 422.7Z" fill="#9a9a9a"/>
<path d="M19.0 378.0C19.7 378.4 21.2 379.8 23.0 380.6C24.8 381.4 27.2 382.5 30.0 383.0C32.8 383.5 35.8 383.6 40.0 383.6C44.2 383.6 50.8 382.9 55.0 382.8C59.2 382.7 63.3 383.0 65.0 383.0" stroke="#101010" stroke-width="11" stroke-linecap="round" fill="none"/>
<path d="M55.0 382.8C56.7 382.8 61.7 382.6 65.0 383.0C68.3 383.4 72.3 384.2 75.0 385.0C77.7 385.8 79.6 386.8 81.4 388.0C83.2 389.2 85.0 390.7 85.8 392.0C86.6 393.3 86.5 394.5 86.0 396.0C85.5 397.5 84.3 399.3 83.0 401.0C81.7 402.7 78.8 405.2 78.0 406.0" stroke="#101010" stroke-width="13" stroke-linecap="round" fill="none"/>
<path d="M28.0 380.4C30.0 380.5 35.5 381.0 40.0 380.9C44.5 380.8 50.8 379.8 55.0 379.6C59.2 379.4 61.8 379.5 65.0 379.8C68.2 380.1 71.6 380.7 74.0 381.6C76.4 382.5 78.2 383.7 79.6 385.0C81.0 386.3 81.9 388.0 82.4 389.5C82.9 391.0 82.4 393.2 82.4 394.0" stroke="#8a8a8a" stroke-width="1.3" fill="none"/>
<path d="M193.3 322.7C194.1 322.9 196.4 323.2 198.0 323.7C199.6 324.2 201.3 324.8 203.0 325.5C204.7 326.2 205.7 326.8 208.0 328.0C210.3 329.2 214.4 331.1 216.7 332.5C219.0 333.9 219.8 335.2 222.0 336.7C224.2 338.2 227.0 340.0 230.0 341.3C233.0 342.6 236.7 343.6 240.0 344.7C243.3 345.8 247.0 346.5 250.0 347.6C253.0 348.7 255.5 349.9 258.0 351.3C260.5 352.8 263.0 354.7 265.0 356.3C267.0 357.9 268.8 359.6 270.0 361.0C271.2 362.4 271.9 364.1 272.3 364.7" stroke="#101010" stroke-width="5.6" fill="none"/>
<path d="M78.0 406.0C77.0 406.8 73.8 409.5 72.0 411.0C70.2 412.5 68.5 413.7 67.5 415.0C66.5 416.3 66.0 417.7 65.8 419.0C65.6 420.3 65.8 421.8 66.5 423.0C67.2 424.2 68.6 425.2 70.0 426.0C71.4 426.8 72.5 427.2 75.0 427.5C77.5 427.8 81.7 428.1 85.0 428.0C88.3 427.9 91.7 427.3 95.0 426.7C98.3 426.1 102.2 425.2 105.0 424.5C107.8 423.8 110.8 422.9 112.0 422.6" stroke="#101010" stroke-width="5.4" stroke-linecap="round" fill="none"/>
<path d="M17.7 375.6C17.8 374.6 18.3 373.4 19.5 372.2C20.7 371.0 23.2 369.6 25.0 368.7C26.8 367.8 27.5 367.5 30.0 366.5C32.5 365.5 36.7 364.1 40.0 362.8C43.3 361.6 46.7 360.3 50.0 359.0C53.3 357.7 55.8 356.5 60.0 355.2C64.2 353.9 68.3 352.8 75.0 351.0C81.7 349.2 91.7 346.9 100.0 344.7C108.3 342.5 116.7 339.9 125.0 337.6C133.3 335.4 142.5 333.0 150.0 331.2C157.5 329.4 164.4 328.2 170.0 327.0C175.6 325.8 180.2 324.4 183.3 323.7C186.4 323.0 187.0 322.8 188.7 322.6C190.4 322.4 191.8 322.5 193.3 322.7C194.9 322.9 196.4 323.2 198.0 323.7C199.6 324.2 201.3 324.8 203.0 325.5C204.7 326.2 205.7 326.8 208.0 328.0C210.3 329.2 214.4 331.1 216.7 332.5C219.0 333.9 219.8 335.2 222.0 336.7C224.2 338.2 227.0 340.0 230.0 341.3C233.0 342.6 236.7 343.6 240.0 344.7C243.3 345.8 247.0 346.5 250.0 347.6C253.0 348.7 255.5 349.9 258.0 351.3C260.5 352.8 263.0 354.7 265.0 356.3C267.0 357.9 268.8 359.6 270.0 361.0C271.2 362.4 272.1 363.6 272.3 364.7C272.5 365.8 272.2 366.8 271.0 367.7C269.8 368.6 267.7 369.0 265.0 370.0C262.3 371.0 258.3 372.4 255.0 373.6C251.7 374.8 249.2 375.6 245.0 377.0C240.8 378.4 237.5 379.7 230.0 382.3C222.5 384.9 211.7 388.5 200.0 392.5C188.3 396.5 173.3 401.7 160.0 406.3C146.7 410.9 129.2 417.3 120.0 420.3C110.8 423.3 109.2 423.4 105.0 424.5C100.8 425.6 98.3 426.1 95.0 426.7C91.7 427.3 88.3 427.9 85.0 428.0C81.7 428.1 77.5 427.8 75.0 427.5C72.5 427.2 71.4 426.8 70.0 426.0C68.6 425.2 67.2 424.2 66.5 423.0C65.8 421.8 65.6 420.3 65.8 419.0C66.0 417.7 66.5 416.3 67.5 415.0C68.5 413.7 70.2 412.5 72.0 411.0C73.8 409.5 76.2 407.7 78.0 406.0C79.8 404.3 81.7 402.7 83.0 401.0C84.3 399.3 85.5 397.5 86.0 396.0C86.5 394.5 86.6 393.3 85.8 392.0C85.0 390.7 83.2 389.2 81.4 388.0C79.6 386.8 77.7 385.8 75.0 385.0C72.3 384.2 68.3 383.4 65.0 383.0C61.7 382.6 59.2 382.7 55.0 382.8C50.8 382.9 44.2 383.6 40.0 383.6C35.8 383.6 32.8 383.5 30.0 383.0C27.2 382.5 24.8 381.4 23.0 380.6C21.2 379.8 19.9 378.8 19.0 378.0C18.1 377.2 17.6 376.6 17.7 375.6Z" stroke="#0e0e0e" stroke-width="3.4" stroke-linejoin="round" fill="none"/>
</g>
<g clip-path="url(#pr)">
<path d="M331.3 288.0C331.3 286.8 334.9 285.6 338.3 284.3C341.7 283.0 347.2 281.6 351.7 280.4C356.1 279.2 359.2 278.6 365.0 277.0C370.8 275.4 380.3 272.2 386.7 270.6C393.1 269.0 398.0 268.0 403.3 267.2C408.6 266.4 414.3 265.9 418.3 265.8C422.3 265.7 424.8 266.1 427.5 266.6C430.2 267.1 432.8 267.9 434.8 269.0C436.8 270.1 437.2 272.2 439.4 273.4C441.5 274.6 445.4 275.6 447.7 276.4C450.0 277.2 450.1 277.4 453.3 278.0C456.5 278.6 462.2 279.3 466.7 280.0C471.1 280.7 475.6 281.4 480.0 282.0C484.4 282.6 490.0 282.8 493.3 283.4C496.6 283.9 498.0 284.4 500.0 285.3C502.0 286.2 504.7 287.8 505.4 288.8C506.1 289.8 504.9 290.6 504.0 291.2C503.1 291.8 501.8 291.8 500.0 292.3C498.2 292.8 496.6 293.0 493.3 294.0C490.0 295.0 484.4 296.8 480.0 298.3C475.6 299.8 471.1 301.4 466.7 303.0C462.2 304.6 457.8 306.1 453.3 307.7C448.9 309.2 444.6 310.8 440.0 312.3C435.4 313.8 430.2 315.6 426.0 316.6C421.8 317.6 417.9 318.4 414.7 318.5C411.5 318.6 409.1 317.8 406.7 317.0C404.2 316.2 402.5 314.7 400.0 313.8C397.5 312.9 394.5 312.2 391.7 311.5C388.9 310.8 385.9 310.1 383.3 309.5C380.7 308.9 377.9 308.6 376.0 308.0C374.1 307.4 373.8 306.5 372.0 305.7C370.2 304.9 367.3 304.0 365.0 303.3C362.7 302.6 360.5 302.5 358.3 301.7C356.1 300.9 353.9 299.5 351.7 298.3C349.5 297.1 347.2 295.4 345.0 294.3C342.8 293.2 340.6 292.8 338.3 291.7C336.0 290.6 331.3 289.2 331.3 288.0Z" fill="#4e4e4e"/>
<path d="M388.0 271.0C393.3 273.6 409.3 281.5 420.0 286.5C430.7 291.5 443.7 297.2 452.0 301.0C460.3 304.8 467.0 307.7 470.0 309.0" stroke="#333" stroke-width="0.9" fill="none"/>
<path d="M345.0 298.0C354.2 296.3 384.2 291.2 400.0 288.0C415.8 284.8 428.3 279.7 440.0 279.0C451.7 278.3 461.7 282.7 470.0 284.0C478.3 285.3 486.7 286.5 490.0 287.0" stroke="#333" stroke-width="0.9" fill="none"/>
<ellipse cx="385.8" cy="288.8" rx="2.5" ry="1.9" fill="#0a0a0a"/>
<ellipse cx="394.2" cy="286.7" rx="2.5" ry="1.9" fill="#0a0a0a"/>
<ellipse cx="401.3" cy="284.7" rx="2.5" ry="1.9" fill="#0a0a0a"/>
<ellipse cx="408.8" cy="282.7" rx="2.5" ry="1.9" fill="#0a0a0a"/>
<ellipse cx="415.8" cy="280.8" rx="2.5" ry="1.9" fill="#0a0a0a"/>
<ellipse cx="405" cy="294.5" rx="2.5" ry="1.9" fill="#0a0a0a"/>
<ellipse cx="412.5" cy="292" rx="2.5" ry="1.9" fill="#0a0a0a"/>
<ellipse cx="420" cy="290" rx="2.5" ry="1.9" fill="#0a0a0a"/>
<ellipse cx="427.5" cy="287.8" rx="2.5" ry="1.9" fill="#0a0a0a"/>
<ellipse cx="435" cy="285.8" rx="2.5" ry="1.9" fill="#0a0a0a"/>
<path d="M404.0 316.0L409.0 318.0L414.7 318.5L420.4 317.6L426.0 316.6L430.7 315.2L435.3 313.7L440.0 312.3L444.4 310.8L448.9 309.2L453.3 307.7L457.8 306.1L462.2 304.6L466.7 303.0L471.1 301.4L475.6 299.9L480.0 298.3L484.4 296.9L488.9 295.4L493.3 294.0L500.0 292.3L504.0 291.2L504.0 286.0L500.0 287.1L493.3 288.8L488.9 290.2L484.4 291.7L480.0 293.1L475.6 294.7L471.1 296.2L466.7 297.8L462.2 299.4L457.8 300.9L453.3 302.5L448.9 304.0L444.4 305.6L440.0 307.1L435.3 308.5L430.7 310.0L426.0 311.4L420.4 312.4L414.7 313.3L409.0 312.8L404.0 310.8Z" fill="#141414"/>
<path d="M404.0 314.3L409.0 316.3L414.7 316.8L420.4 315.9L426.0 314.9L430.7 313.5L435.3 312.0L440.0 310.6L444.4 309.1L448.9 307.5L453.3 306.0L457.8 304.4L462.2 302.9L466.7 301.3L471.1 299.7L475.6 298.2L480.0 296.6L484.4 295.2L488.9 293.7L493.3 292.3L500.0 290.6L504.0 289.5L504.0 287.1L500.0 288.2L493.3 289.9L488.9 291.3L484.4 292.8L480.0 294.2L475.6 295.8L471.1 297.3L466.7 298.9L462.2 300.5L457.8 302.0L453.3 303.6L448.9 305.1L444.4 306.7L440.0 308.2L435.3 309.6L430.7 311.1L426.0 312.5L420.4 313.5L414.7 314.4L409.0 313.9L404.0 311.9Z" fill="#d4d4d4"/>
<path d="M420.0 321.0L406.7 317.0L400.0 313.8L391.7 311.5L383.3 309.5L376.0 308.0L372.0 305.7L365.0 303.3L358.3 301.7L351.7 298.3L345.0 294.3L338.3 291.7L331.3 288.0L328.0 289.0L330.0 286.6L334.3 287.3L341.7 290.3L351.7 293.7L360.0 295.0L366.7 296.7L373.3 299.0L380.0 302.3L386.7 304.3L400.0 307.7L408.0 311.0L414.0 313.5L420.0 314.0Z" fill="#121212"/>
<path d="M352.0 296.3C353.7 296.7 359.0 297.9 362.0 298.6C365.0 299.3 367.5 299.7 370.0 300.6C372.5 301.6 374.3 303.1 377.0 304.3C379.7 305.5 382.5 306.6 386.0 307.6C389.5 308.7 396.0 310.1 398.0 310.6" stroke="#3c3c3c" stroke-width="0.9" fill="none"/>
<path d="M484 282.6L488.5 290.5L502 288.2" stroke="#1c1c1c" stroke-width="1" fill="none"/>
<path d="M484.5 283L489 290.2L503 288.4L500 285.5Z" fill="#3c3c3c"/>
<path d="M404.0 269.6C406.3 269.4 414.0 268.4 418.0 268.4C422.0 268.4 425.3 268.8 428.0 269.4C430.7 270.0 432.5 270.9 434.0 271.8C435.5 272.7 436.5 274.1 437.0 274.6" stroke="#2a2a2a" stroke-width="1" fill="none"/>
<path d="M331.3 288.0C331.3 286.8 334.9 285.6 338.3 284.3C341.7 283.0 347.2 281.6 351.7 280.4C356.1 279.2 359.2 278.6 365.0 277.0C370.8 275.4 380.3 272.2 386.7 270.6C393.1 269.0 398.0 268.0 403.3 267.2C408.6 266.4 414.3 265.9 418.3 265.8C422.3 265.7 424.8 266.1 427.5 266.6C430.2 267.1 432.8 267.9 434.8 269.0C436.8 270.1 437.2 272.2 439.4 273.4C441.5 274.6 445.4 275.6 447.7 276.4C450.0 277.2 450.1 277.4 453.3 278.0C456.5 278.6 462.2 279.3 466.7 280.0C471.1 280.7 475.6 281.4 480.0 282.0C484.4 282.6 490.0 282.8 493.3 283.4C496.6 283.9 498.0 284.4 500.0 285.3C502.0 286.2 504.7 287.8 505.4 288.8C506.1 289.8 504.9 290.6 504.0 291.2C503.1 291.8 501.8 291.8 500.0 292.3C498.2 292.8 496.6 293.0 493.3 294.0C490.0 295.0 484.4 296.8 480.0 298.3C475.6 299.8 471.1 301.4 466.7 303.0C462.2 304.6 457.8 306.1 453.3 307.7C448.9 309.2 444.6 310.8 440.0 312.3C435.4 313.8 430.2 315.6 426.0 316.6C421.8 317.6 417.9 318.4 414.7 318.5C411.5 318.6 409.1 317.8 406.7 317.0C404.2 316.2 402.5 314.7 400.0 313.8C397.5 312.9 394.5 312.2 391.7 311.5C388.9 310.8 385.9 310.1 383.3 309.5C380.7 308.9 377.9 308.6 376.0 308.0C374.1 307.4 373.8 306.5 372.0 305.7C370.2 304.9 367.3 304.0 365.0 303.3C362.7 302.6 360.5 302.5 358.3 301.7C356.1 300.9 353.9 299.5 351.7 298.3C349.5 297.1 347.2 295.4 345.0 294.3C342.8 293.2 340.6 292.8 338.3 291.7C336.0 290.6 331.3 289.2 331.3 288.0Z" stroke="#0e0e0e" stroke-width="3.4" stroke-linejoin="round" fill="none"/>
</g></g>
</svg>
</body>
</html>
